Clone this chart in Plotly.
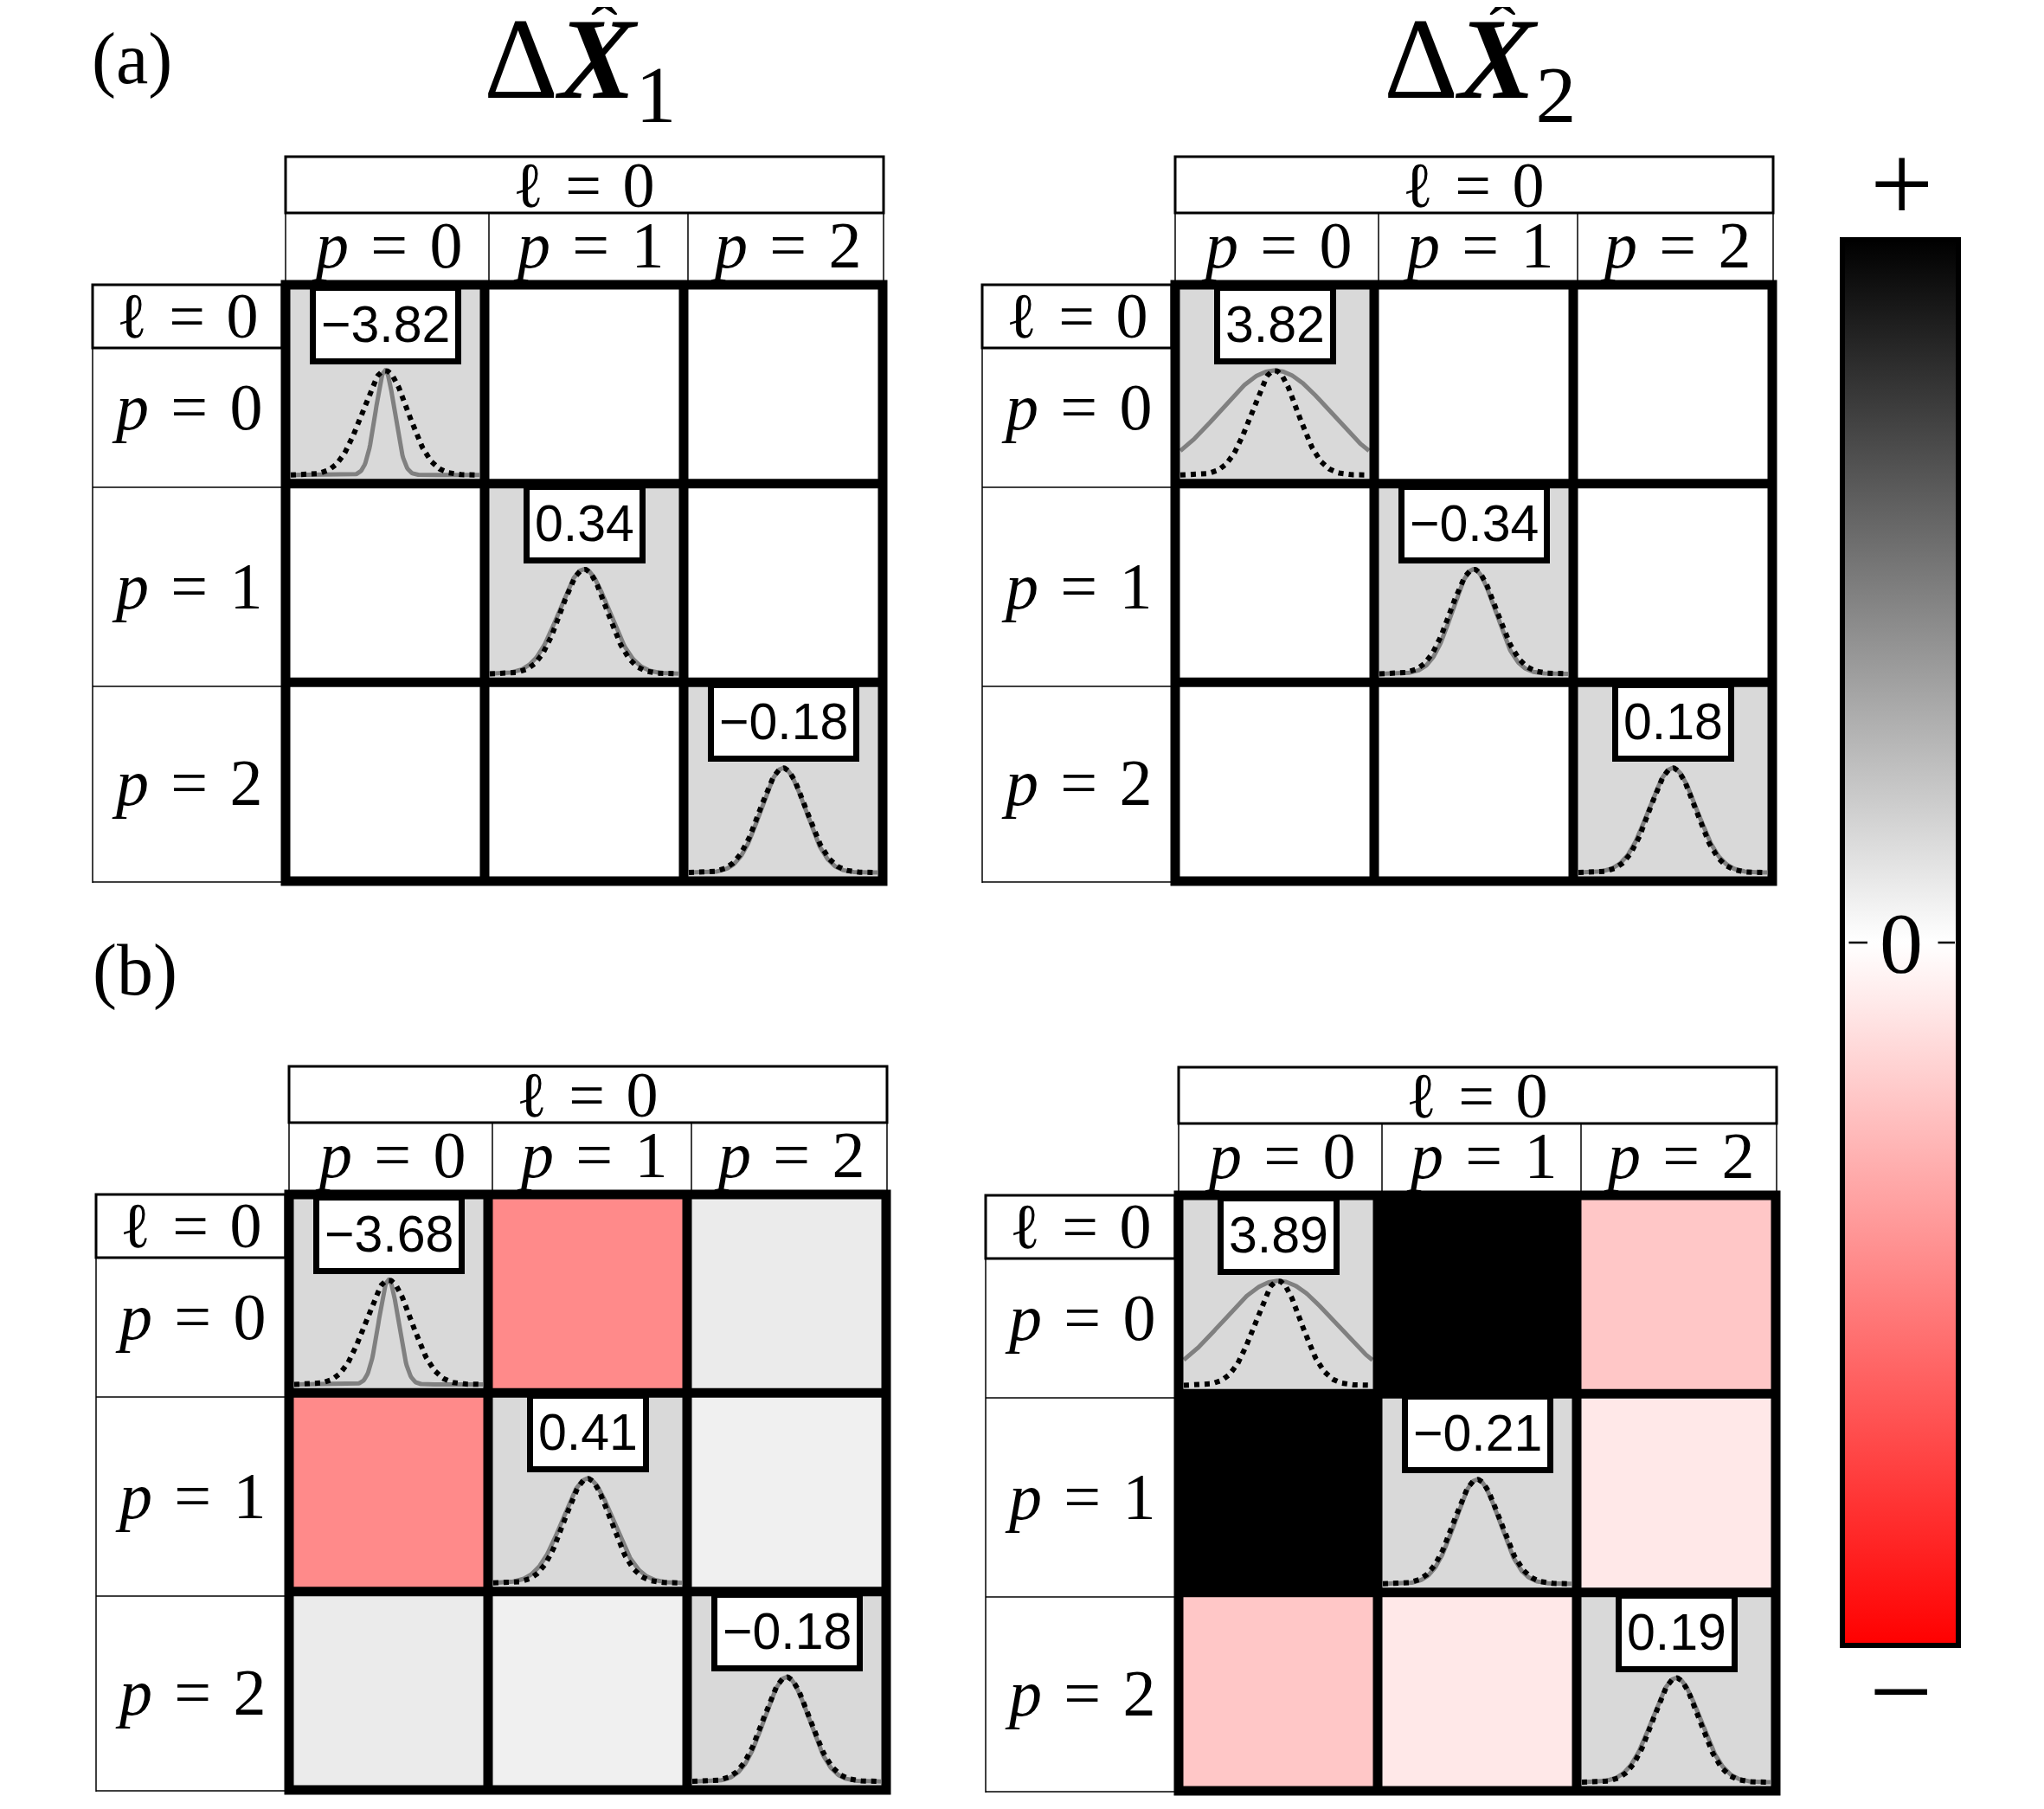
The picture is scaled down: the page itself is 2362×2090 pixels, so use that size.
import numpy as np
import plotly.graph_objects as go

# page body keeps an 8px margin; the figure is sized so that it fits exactly
OX, OY = 8, 8
FW, FH = 2362 - 2 * OX, 2090 - 2 * OY

# ---------------- data ----------------
mode_label = "ℓ"
p_labels = ["0", "1", "2"]
panel_tags = ["(a)", "(b)"]
quad_titles = ["1", "2"]

# diagonal squeezing values (dB) for each panel
diag_a_x1 = [-3.82, 0.34, -0.18]
diag_a_x2 = [3.82, -0.34, 0.18]
diag_b_x1 = [-3.68, 0.41, -0.18]
diag_b_x2 = [3.89, -0.21, 0.19]

# off-diagonal correlations on the normalised colour scale (-1 .. +1)
off_a_x1 = [[None, 0.0, 0.0], [0.0, None, 0.0], [0.0, 0.0, None]]
off_a_x2 = [[None, 0.0, 0.0], [0.0, None, 0.0], [0.0, 0.0, None]]
off_b_x1 = [[None, -0.46, 0.08], [-0.46, None, 0.06], [0.08, 0.06, None]]
off_b_x2 = [[None, 1.0, -0.22], [1.0, None, -0.09], [-0.22, -0.09, None]]

colorscale = [[0.0, "rgb(255,0,0)"], [0.5, "rgb(255,255,255)"], [1.0, "rgb(0,0,0)"]]

# ---------------- layout geometry (pixels in the 2362x2090 page) ----------------
panels = [
    dict(x0=330, y0=329, x1=1020, y1=1018, diag=diag_a_x1, off=off_a_x1),
    dict(x0=1358, y0=329, x1=2048, y1=1018, diag=diag_a_x2, off=off_a_x2),
    dict(x0=334, y0=1380, x1=1024, y1=2068, diag=diag_b_x1, off=off_b_x1),
    dict(x0=1362, y0=1381, x1=2052, y1=2069, diag=diag_b_x2, off=off_b_x2),
]

SERIF = "Liberation Serif, DejaVu Serif, serif"
SANS = "Liberation Sans, Arial, sans-serif"


def px(x):
    return (x - OX) / FW


def py(y):
    return 1 - (y - OY) / FH


def mathlab(var, val, italic=True):
    v = f"<i>{var}</i>" if italic else var
    return f"{v}\u2004=\u2004{val}"


def fmt(v):
    return f"{v:.2f}".replace("-", "\u2212")


fig = go.Figure()
shapes = []
annotations = []
layout_axes = {}

SIG = 0.115      # width of reference (vacuum) gaussian, in cell units
PEAK = 0.526     # peak height, cell units
BASE = 0.043     # baseline offset above cell bottom
EDGE = 0.026

for k, pn in enumerate(panels):
    sfx = "" if k == 0 else str(k + 1)
    xa, ya = "x" + sfx, "y" + sfx
    layout_axes["xaxis" + sfx] = dict(domain=[px(pn["x0"]), px(pn["x1"])], range=[-0.5, 2.5],
                                      visible=False, fixedrange=True, anchor=ya)
    layout_axes["yaxis" + sfx] = dict(domain=[py(pn["y1"]), py(pn["y0"])], range=[2.5, -0.5],
                                      visible=False, fixedrange=True, anchor=xa)
    idx = list(range(len(p_labels)))
    # off-diagonal coloured cells
    fig.add_trace(go.Heatmap(z=pn["off"], x=idx, y=idx, xaxis=xa, yaxis=ya,
                             colorscale=colorscale, zmin=-1, zmax=1, hoverinfo="skip",
                             showscale=(k == 3),
                             colorbar=dict(thickness=134, thicknessmode="pixels",
                                           len=1624, lenmode="pixels",
                                           x=px(2129), xanchor="left", xpad=0,
                                           y=py(1089), yanchor="middle", ypad=0,
                                           outlinewidth=6, outlinecolor="black",
                                           showticklabels=False, ticks="")))
    # diagonal grey cells
    zd = [[pn["diag"][i] if i == j else None for j in idx] for i in idx]
    fig.add_trace(go.Heatmap(z=zd, x=idx, y=idx, xaxis=xa, yaxis=ya,
                             colorscale=[[0, "#d9d9d9"], [1, "#d9d9d9"]],
                             showscale=False, hoverinfo="skip"))
    # gaussians
    for i, db in enumerate(pn["diag"]):
        xs = np.linspace(i - 0.5 + EDGE, i + 0.5 - EDGE, 241)
        base = i + 0.5 - BASE
        ratio = 10 ** (db / 10)
        ysq = base - PEAK * np.exp(-(xs - i) ** 2 / (2 * (SIG * ratio) ** 2))
        yvac = base - PEAK * np.exp(-(xs - i) ** 2 / (2 * SIG ** 2))
        fig.add_trace(go.Scatter(x=xs, y=ysq, xaxis=xa, yaxis=ya, mode="lines",
                                 line=dict(color="#808080", width=5), hoverinfo="skip",
                                 showlegend=False))
        fig.add_trace(go.Scatter(x=xs, y=yvac, xaxis=xa, yaxis=ya, mode="lines",
                                 line=dict(color="black", width=6, dash="dot"), hoverinfo="skip",
                                 showlegend=False))
        annotations.append(dict(x=i, y=i - 0.5, xref=xa, yref=ya, text=fmt(db),
                                showarrow=False, xanchor="center", yanchor="top",
                                font=dict(family=SANS, size=59, color="black"),
                                bgcolor="white", bordercolor="black", borderwidth=7, borderpad=6))
    # thick grid: inner lines on the axes, outer frame in page coordinates (not clipped)
    for b in (0.5, 1.5):
        shapes.append(dict(type="line", xref=xa, yref=ya, x0=b, x1=b, y0=-0.5, y1=2.5,
                           line=dict(color="black", width=11)))
        shapes.append(dict(type="line", xref=xa, yref=ya, x0=-0.5, x1=2.5, y0=b, y1=b,
                           line=dict(color="black", width=11)))
    shapes.append(dict(type="rect", xref="paper", yref="paper",
                       x0=px(pn["x0"]), x1=px(pn["x1"]), y0=py(pn["y1"]), y1=py(pn["y0"]),
                       line=dict(color="black", width=11)))

    x0, y0, y1 = pn["x0"], pn["y0"], pn["y1"]
    # column header: l box
    shapes.append(dict(type="rect", xref="paper", yref="paper",
                       x0=px(x0), x1=px(x0 + 691), y0=py(y0 - 83), y1=py(y0 - 148),
                       line=dict(color="black", width=3)))
    annotations.append(dict(x=px(x0 + 345), y=py(y0 - 115), xref="paper", yref="paper",
                            text=mathlab(mode_label, "0", italic=False), showarrow=False,
                            font=dict(family=SERIF, size=74, color="black"),
                            xanchor="center", yanchor="middle"))
    # column header: p row
    seps = [0, 235, 465, 691]
    for s in seps:
        shapes.append(dict(type="line", xref="paper", yref="paper",
                           x0=px(x0 + s), x1=px(x0 + s), y0=py(y0 - 83), y1=py(y0 - 5),
                           line=dict(color="black", width=1.5)))
    for c, lab in enumerate(p_labels):
        cx = (seps[c] + seps[c + 1]) / 2
        annotations.append(dict(x=px(x0 + cx), y=py(y0 - 46), xref="paper", yref="paper",
                                text=mathlab("p", lab), showarrow=False,
                                font=dict(family=SERIF, size=76, color="black"),
                                xanchor="center", yanchor="middle"))
    # row header
    lx = x0 - 223
    shapes.append(dict(type="rect", xref="paper", yref="paper",
                       x0=px(lx), x1=px(x0 - 4), y0=py(y0 + 73), y1=py(y0),
                       line=dict(color="black", width=3)))
    annotations.append(dict(x=px(x0 - 113), y=py(y0 + 36), xref="paper", yref="paper",
                            text=mathlab(mode_label, "0", italic=False), showarrow=False,
                            font=dict(family=SERIF, size=74, color="black"),
                            xanchor="center", yanchor="middle"))
    shapes.append(dict(type="line", xref="paper", yref="paper",
                       x0=px(lx), x1=px(lx), y0=py(y0 + 73), y1=py(y1 + 2),
                       line=dict(color="black", width=1.5)))
    for hy in (y0 + 234, y0 + 464, y1 + 1):
        shapes.append(dict(type="line", xref="paper", yref="paper",
                           x0=px(lx), x1=px(x0 - 5), y0=py(hy), y1=py(hy),
                           line=dict(color="black", width=1.5)))
    rows_y = [141, 348, 575]
    for r, lab in enumerate(p_labels):
        annotations.append(dict(x=px(x0 - 114), y=py(y0 + rows_y[r]), xref="paper", yref="paper",
                                text=mathlab("p", lab), showarrow=False,
                                font=dict(family=SERIF, size=76, color="black"),
                                xanchor="center", yanchor="middle"))

# titles (hat drawn as a separate accent above the X)
for cx, hx, sub in zip((670, 1710), (698, 1736), quad_titles):
    annotations.append(dict(x=px(cx), y=py(78), xref="paper", yref="paper",
                            text=f"Δ<b><i>X</i></b><sub>{sub}</sub>", showarrow=False,
                            font=dict(family=SERIF, size=134, color="black"),
                            xanchor="center", yanchor="middle"))
    annotations.append(dict(x=px(hx), y=py(36), xref="paper", yref="paper",
                            text="\u02c6", showarrow=False,
                            font=dict(family=SERIF, size=92, color="black"),
                            xanchor="center", yanchor="middle"))
# panel tags
for (cx, cy), tag in zip(((152, 68), (156, 1121)), panel_tags):
    annotations.append(dict(x=px(cx), y=py(cy), xref="paper", yref="paper", text=tag,
                            showarrow=False, font=dict(family=SERIF, size=84, color="black"),
                            xanchor="center", yanchor="middle"))

# colorbar annotations
annotations.append(dict(x=px(2197), y=py(212), xref="paper", yref="paper", text="+",
                        showarrow=False, font=dict(family=SERIF, size=130, color="black"),
                        xanchor="center", yanchor="middle"))
annotations.append(dict(x=px(2197), y=py(1089), xref="paper", yref="paper", text="0",
                        showarrow=False, font=dict(family=SERIF, size=100, color="black"),
                        xanchor="center", yanchor="middle"))
annotations.append(dict(x=px(2196), y=py(1954), xref="paper", yref="paper", text="\u2212",
                        showarrow=False, font=dict(family=SERIF, size=130, color="black"),
                        xanchor="center", yanchor="middle"))
for a, b in ((2135, 2158), (2238, 2259)):
    annotations.append(dict(x=px(b), y=py(1089), ax=-(b - a), ay=0, axref="pixel",
                            ayref="pixel", xref="paper", yref="paper", text="",
                            showarrow=True, arrowhead=0, arrowwidth=2.5, arrowcolor="black",
                            standoff=0, startstandoff=0))

fig.update_layout(width=FW, height=FH, margin=dict(l=0, r=0, t=0, b=0),
                  paper_bgcolor="white", plot_bgcolor="white", showlegend=False,
                  shapes=shapes, annotations=annotations, **layout_axes)

fig.write_html("out.html")
